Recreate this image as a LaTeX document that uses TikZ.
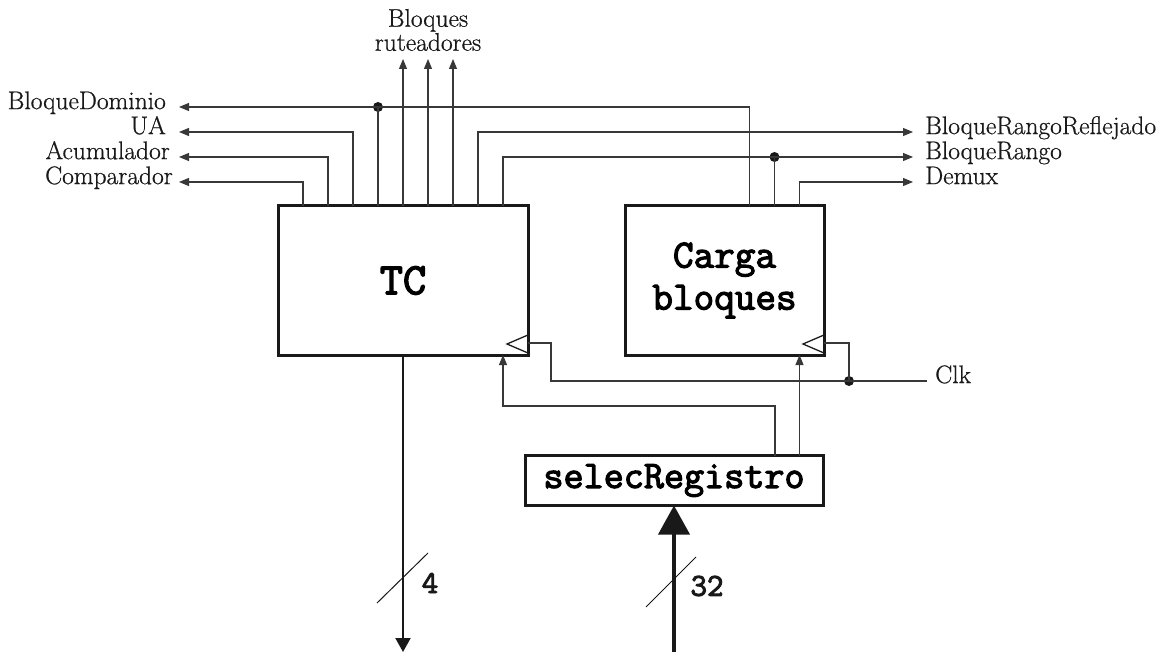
\documentclass[tikz,border=0pt]{standalone}
\usepackage{fontspec}
\newfontfamily\codefont{Latin Modern Mono}[FakeBold=3]
\newfontfamily\labelfont{Latin Modern Roman}[FakeBold=0.7]
\usetikzlibrary{arrows.meta,calc}
\begin{document}
\begin{tikzpicture}[x=1pt,y=-1pt,
  sig/.style={draw=black!78, line width=1.1pt},
  tipsig/.style={sig, -{Triangle[length=10pt,width=8pt]}},
  block/.style={draw=black!90, line width=3pt, inner sep=0pt, outer sep=0pt,
    align=center, font=\codefont\fontsize{40}{42}\selectfont},
  lbl/.style={font=\labelfont\fontsize{25.5}{24}\selectfont, inner sep=0pt, text=black!90},
  wlbl/.style={font=\codefont\fontsize{32}{34}\selectfont, inner sep=0pt, text=black!90},
  jdot/.style={circle, fill=black!90, inner sep=0pt, minimum size=10pt},
  slash/.style={draw=black!90, line width=1pt},
]
\useasboundingbox (0,0) rectangle (1167,652);

% blocks
\node[block, minimum width=250pt, minimum height=149pt,
      font=\codefont\fontsize{45}{48}\selectfont] (tc) at (403,280.5) {TC};
\node[block, minimum width=199pt, minimum height=149pt] (cb) at (724.5,280.5) {Carga\\bloques};
\node[block, minimum width=298pt, minimum height=50pt,
      font=\codefont\fontsize{39}{42}\selectfont] (sr) at (674,480.5) {selecRegistro};

% clock inputs
\draw[draw=black!90, line width=1.3pt] ($(tc.south east)+(0,-20)$) -- ++(-21,9) -- ++(21,9);
\draw[draw=black!90, line width=1.3pt] ($(cb.south east)+(0,-20)$) -- ++(-21,9) -- ++(21,9);

% labels, left side
\node[lbl, anchor=mid east] (bd)  at (166,107) {BloqueDominio};
\node[lbl, anchor=mid east] (ua)  at (166,132) {UA};
\node[lbl, anchor=mid east] (acu) at (170,157) {Acumulador};
\node[lbl, anchor=mid east] (cmp) at (173,182) {Comparador};
\coordinate (bdT)  at (179,107);
\coordinate (uaT)  at (179,132);
\coordinate (acuT) at (179,157);
\coordinate (cmpT) at (179,182);

% labels, right side
\node[lbl, anchor=mid west] (brr) at (925,132) {BloqueRangoReflejado};
\node[lbl, anchor=mid west] (br)  at (925,157) {BloqueRango};
\node[lbl, anchor=mid west] (dmx) at (925,182) {Demux};
\coordinate (brrT) at (913,132);
\coordinate (brT)  at (913,157);
\coordinate (dmxT) at (913,182);

% router outputs
\node[lbl, align=center] (rut) at (428,30) {Bloques\\ruteadores};
\coordinate (r0) at (403,59);
\coordinate (r1) at (428,59);
\coordinate (r2) at (453,59);

% junction dots
\node[jdot] (dotA) at (378,107) {};
\node[jdot] (dotB) at (774.5,157) {};
\node[jdot] (dotC) at (849,381) {};

% TC outputs
\draw[tipsig] ($(tc.north)+(-100,0)$) |- (cmpT);
\draw[tipsig] ($(tc.north)+(-75,0)$) |- (acuT);
\draw[tipsig] ($(tc.north)+(-50,0)$) |- (uaT);
\draw[sig] ($(tc.north)+(-25,0)$) -- (dotA.center);
\draw[tipsig] ($(tc.north)+(0,0)$) -- (r0);
\draw[tipsig] ($(tc.north)+(25,0)$) -- (r1);
\draw[tipsig] ($(tc.north)+(50,0)$) -- (r2);
\draw[tipsig] ($(tc.north)+(75,0)$) |- (brrT);
\draw[tipsig] ($(tc.north)+(100,0)$) |- (brT);

% Carga bloques outputs
\draw[tipsig] ($(cb.north)+(25,0)$) |- (bdT);
\draw[sig] ($(cb.north)+(50,0)$) -- (dotB.center);
\draw[tipsig] ($(cb.north)+(75,0)$) |- (dmxT);

% clock net
\coordinate (clkT) at (927,381);
\node[lbl, anchor=mid west] (clk) at (935,381) {Clk};
\draw[sig] (clkT) -- (dotC.center) -| ($(tc.south east)+(23,-12)$) -- ($(tc.south east)+(0,-12)$);
\draw[sig] (dotC.center) |- ($(cb.south east)+(0,-12)$);

% selecRegistro to both blocks
\draw[tipsig] ($(sr.north)+(101,0)$) -- ++(0,-49.5) -| ($(tc.south)+(100,0)$);
\draw[tipsig] ($(sr.north)+(125.5,0)$) -- ($(cb.south)+(75,0)$);

% 4-bit output bus
\coordinate (tcOut) at (403,652);
\draw[draw=black!90, line width=2pt, -{Triangle[length=14pt,width=15pt]}] (tc.south) -- (tcOut);
\draw[slash] (377,603) -- (428,553);
\node[wlbl] (w4) at (430,583) {4};

% 32-bit input bus
\coordinate (busIn) at (674,652);
\draw[draw=black!90, line width=4pt, -{Triangle[length=29pt,width=31pt]}] (busIn) -- (sr.south);
\draw[slash] (646,607) -- (696,557);
\node[wlbl] (w32) at (707,586) {32};
\end{tikzpicture}
\end{document}
